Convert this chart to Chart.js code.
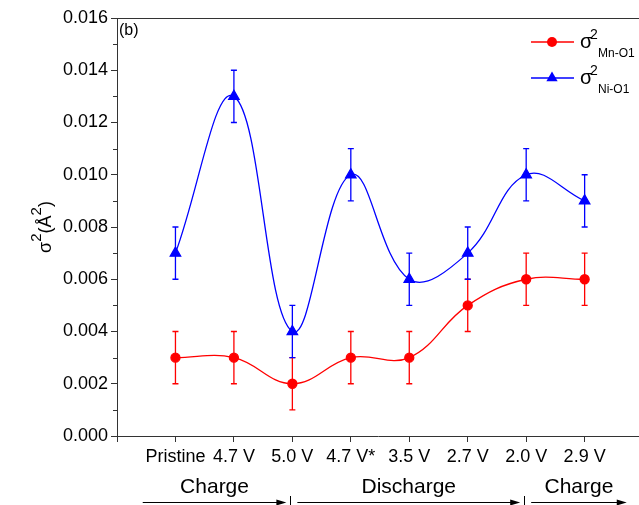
<!DOCTYPE html>
<html>
<head>
<meta charset="utf-8">
<script src="https://cdn.jsdelivr.net/npm/chart.js@4/dist/chart.umd.min.js"></script>
<style>
  body { margin: 0; background: #fff; }
  #chart { display: block; }
</style>
</head>
<body>
<canvas id="chart" width="639" height="505"></canvas>
<script>
// states along the cycle
const categories = ["Pristine", "4.7 V", "5.0 V", "4.7 V*", "3.5 V", "2.7 V", "2.0 V", "2.9 V"];
// sigma^2 values (A^2)
const mnO1 = [0.003, 0.003, 0.002, 0.003, 0.003, 0.005, 0.006, 0.006];
const mnO1Err = [0.001, 0.001, 0.001, 0.001, 0.001, 0.001, 0.001, 0.001];
const niO1 = [0.007, 0.013, 0.004, 0.010, 0.006, 0.007, 0.010, 0.009];
const niO1Err = [0.001, 0.001, 0.001, 0.001, 0.001, 0.001, 0.001, 0.001];
// y axis ticks
const yTicks = [0, 0.002, 0.004, 0.006, 0.008, 0.010, 0.012, 0.014, 0.016];
// phases under the axis, phaseBreaks = category index where the next phase starts
const phases = ["Charge", "Discharge", "Charge"];
const phaseBreaks = [2, 6];

const FONT = "'Liberation Sans', Arial, sans-serif";
const AXIS = "#333";

const toPoints = (vals) => vals.map((v, i) => ({ x: i, y: v }));

// draws text pieces with super/subscripts in one row
function drawRich(ctx, parts, x, y) {
  let cx = x;
  parts.forEach((p) => {
    ctx.font = `${p.size}px ${FONT}`;
    ctx.fillText(p.text, cx, y + (p.dy || 0));
    cx += ctx.measureText(p.text).width;
  });
  return cx - x;
}

function richWidth(ctx, parts) {
  let w = 0;
  parts.forEach((p) => {
    ctx.font = `${p.size}px ${FONT}`;
    w += ctx.measureText(p.text).width;
  });
  return w;
}

const errorBars = {
  id: "errorBars",
  beforeDatasetsDraw(chart) {
    const ctx = chart.ctx;
    const yScale = chart.scales.y;
    chart.data.datasets.forEach((ds, di) => {
      const meta = chart.getDatasetMeta(di);
      ctx.save();
      ctx.strokeStyle = ds.borderColor;
      ctx.lineWidth = 1.3;
      meta.data.forEach((pt, i) => {
        const v = ds.data[i].y;
        const e = ds.errors[i];
        const top = yScale.getPixelForValue(v + e);
        const bot = yScale.getPixelForValue(v - e);
        ctx.beginPath();
        ctx.moveTo(pt.x, top);
        ctx.lineTo(pt.x, bot);
        ctx.moveTo(pt.x - 3, top);
        ctx.lineTo(pt.x + 3, top);
        ctx.moveTo(pt.x - 3, bot);
        ctx.lineTo(pt.x + 3, bot);
        ctx.stroke();
      });
      ctx.restore();
    });
  },
};

const decorations = {
  id: "decorations",
  afterDraw(chart) {
    const ctx = chart.ctx;
    const { left, right, top, bottom } = chart.chartArea;
    const xs = chart.scales.x;
    const ys = chart.scales.y;
    ctx.save();

    // top frame line
    ctx.strokeStyle = AXIS;
    ctx.lineWidth = 1;
    ctx.beginPath();
    ctx.moveTo(left, top + 0.5);
    ctx.lineTo(right, top + 0.5);
    ctx.stroke();

    // minor y ticks
    for (let i = 0; i < yTicks.length - 1; i++) {
      const yy = Math.round(ys.getPixelForValue((yTicks[i] + yTicks[i + 1]) / 2)) + 0.5;
      ctx.beginPath();
      ctx.moveTo(left - 4, yy);
      ctx.lineTo(left, yy);
      ctx.stroke();
    }

    ctx.fillStyle = "#000";
    ctx.textBaseline = "alphabetic";

    // panel label
    ctx.font = `16px ${FONT}`;
    ctx.textAlign = "left";
    ctx.fillText("(b)", left + 2, top + 17);

    // y title, rotated
    ctx.save();
    const title = [
      { text: "σ", size: 18 },
      { text: "2", size: 15, dy: -10 },
      { text: "(Å", size: 18 },
      { text: "2", size: 15, dy: -10 },
      { text: ")", size: 18 },
    ];
    ctx.translate(51, (top + bottom) / 2);
    ctx.rotate(-Math.PI / 2);
    drawRich(ctx, title, -richWidth(ctx, title) / 2, 0);
    ctx.restore();

    // legend
    const legend = [
      { ds: 0, sub: "Mn-O1", y: 42 },
      { ds: 1, sub: "Ni-O1", y: 78 },
    ];
    legend.forEach((item) => {
      const ds = chart.data.datasets[item.ds];
      ctx.strokeStyle = ds.borderColor;
      ctx.lineWidth = 1.5;
      ctx.beginPath();
      ctx.moveTo(531, item.y);
      ctx.lineTo(574, item.y);
      ctx.stroke();
      ctx.fillStyle = ds.pointBackgroundColor;
      ctx.beginPath();
      if (ds.pointStyle === "triangle") {
        const r = 6.5;
        ctx.moveTo(552, item.y - r);
        ctx.lineTo(552 + r * 0.866, item.y + r * 0.5);
        ctx.lineTo(552 - r * 0.866, item.y + r * 0.5);
        ctx.closePath();
      } else {
        ctx.arc(552, item.y, 5, 0, Math.PI * 2);
      }
      ctx.fill();
      ctx.fillStyle = "#000";
      ctx.textAlign = "left";
      ctx.font = `20px ${FONT}`;
      ctx.fillText("σ", 580, item.y + 6);
      ctx.font = `14px ${FONT}`;
      ctx.fillText("2", 590, item.y - 3);
      ctx.font = `12px ${FONT}`;
      ctx.fillText(item.sub, 598, item.y + 15);
    });

    // phase arrows under the axis
    const bounds = [-0.56].concat(phaseBreaks, [7.72]);
    const arrowY = 502.5;
    ctx.strokeStyle = "#000";
    ctx.fillStyle = "#000";
    ctx.lineWidth = 1;
    phases.forEach((name, i) => {
      const a = xs.getPixelForValue(bounds[i]);
      const b = xs.getPixelForValue(bounds[i + 1]);
      const x0 = i === 0 ? a : a + 5;
      const x1 = i === phases.length - 1 ? b : b - 6;
      ctx.font = `21px ${FONT}`;
      ctx.textAlign = "center";
      ctx.fillText(name, (x0 + x1) / 2, 493);
      ctx.beginPath();
      ctx.moveTo(x0, arrowY);
      ctx.lineTo(x1 - 6, arrowY);
      ctx.stroke();
      ctx.beginPath();
      ctx.moveTo(x1, arrowY);
      ctx.lineTo(x1 - 10, arrowY - 3);
      ctx.lineTo(x1 - 10, arrowY + 3);
      ctx.closePath();
      ctx.fill();
    });
    phaseBreaks.forEach((b) => {
      const xx = Math.round(xs.getPixelForValue(b)) - 1.5;
      ctx.beginPath();
      ctx.moveTo(xx, 496);
      ctx.lineTo(xx, 505);
      ctx.stroke();
    });

    ctx.restore();
  },
};

new Chart(document.getElementById("chart"), {
  type: "line",
  data: {
    datasets: [
      {
        label: "σ2 Mn-O1",
        data: toPoints(mnO1),
        errors: mnO1Err,
        borderColor: "#ff0000",
        backgroundColor: "#ff0000",
        pointBackgroundColor: "#ff0000",
        pointBorderColor: "#ff0000",
        pointStyle: "circle",
        pointRadius: 4.5,
        borderWidth: 1.3,
        tension: 0.4,
      },
      {
        label: "σ2 Ni-O1",
        data: toPoints(niO1),
        errors: niO1Err,
        borderColor: "#0000ff",
        backgroundColor: "#0000ff",
        pointBackgroundColor: "#0000ff",
        pointBorderColor: "#0000ff",
        pointStyle: "triangle",
        pointRadius: 6,
        borderWidth: 1.3,
        tension: 0.4,
      },
    ],
  },
  options: {
    responsive: false,
    animation: false,
    layout: { autoPadding: false, padding: { top: 18, right: 0, bottom: 0, left: 0 } },
    plugins: {
      legend: { display: false },
      tooltip: { enabled: false },
    },
    scales: {
      x: {
        type: "linear",
        min: -1,
        max: 7.93,
        afterFit: (scale) => { scale.height = 69; scale.paddingRight = 0; },
        grid: { drawOnChartArea: false, tickLength: 6, color: AXIS },
        border: { color: AXIS, width: 1 },
        ticks: {
          stepSize: 1,
          includeBounds: false,
          autoSkip: false,
          maxRotation: 0,
          padding: 4,
          color: "#000",
          font: { family: FONT, size: 18 },
          callback: (v) => (Number.isInteger(v) && v >= 0 && v < categories.length ? categories[v] : ""),
        },
      },
      y: {
        min: yTicks[0],
        max: yTicks[yTicks.length - 1],
        afterFit: (scale) => { scale.width = 117; },
        grid: { drawOnChartArea: false, tickLength: 6, color: AXIS },
        border: { color: AXIS, width: 1 },
        ticks: {
          stepSize: 0.002,
          padding: 3,
          color: "#000",
          font: { family: FONT, size: 18 },
          callback: (v) => v.toFixed(3),
        },
      },
    },
  },
  plugins: [errorBars, decorations],
});
</script>
</body>
</html>
